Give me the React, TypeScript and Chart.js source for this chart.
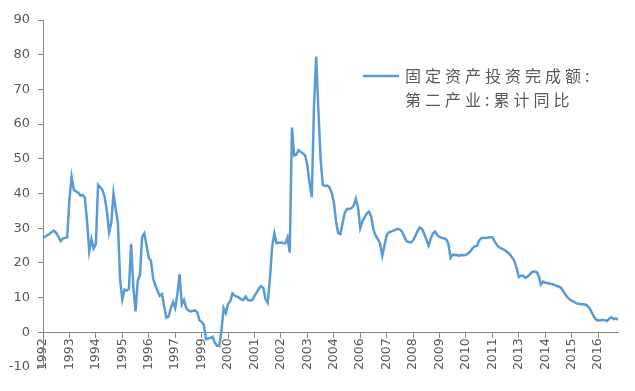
import React, { useEffect, useRef } from "react";
import { Chart, registerables } from "chart.js";

Chart.register(...registerables);

// Year labels shown on the category axis (one every POINTS_PER_LABEL points)
const tickYears = [
  "1992", "1993", "1994", "1995", "1996", "1997", "1999", "2000", "2001", "2002", "2003",
  "2004", "2006", "2007", "2008", "2009", "2010", "2011", "2013", "2014", "2015", "2016",
];
const POINTS_PER_LABEL = 12;

// Legend text (two lines)
const legendLines = ["固定资产投资完成额:", "第二产业:累计同比"];

// 固定资产投资完成额:第二产业:累计同比 (%), one row per label interval
const secondaryIndustryYoY = [
  27.2, 27.6, 28.0, 28.4, 28.9, 29.3, 28.6, 27.6, 26.3, 27.0, 27.2, 27.4,
  38.4, 44.8, 41.0, 40.6, 40.2, 39.4, 39.6, 38.8, 32.0, 23.3, 26.8, 24.2,
  25.5, 42.5, 41.8, 41.0, 39.0, 35.0, 28.8, 31.5, 40.0, 35.5, 31.5, 15.0,
  9.5, 12.3, 12.0, 12.5, 25.5, 13.0, 6.0, 14.8, 16.5, 27.5, 28.5, 25.0,
  21.5, 20.6, 15.5, 13.5, 12.0, 10.5, 11.0, 7.5, 4.2, 4.5, 7.0, 8.7,
  7.0, 11.0, 16.8, 8.0, 9.3, 7.0, 6.3, 6.0, 6.2, 6.3, 5.8, 3.5,
  3.0, 2.2, -2.0, -1.8, -1.6, -1.3, -3.0, -3.9, -4.0, 0.5, 7.0, 5.5,
  8.2, 9.0, 11.2, 10.6, 10.3, 10.0, 9.5, 9.3, 10.3, 9.3, 9.2, 9.3,
  10.5, 11.5, 12.6, 13.3, 12.8, 9.5, 8.5, 15.5, 24.5, 28.5, 25.7, 25.8,
  25.9, 25.7, 25.6, 27.3, 23.0, 59.0, 51.0, 51.2, 52.5, 52.0, 51.5, 51.0,
  48.0, 43.0, 39.0, 65.0, 79.5, 64.0, 50.0, 42.5, 42.2, 42.3, 41.8, 40.3,
  37.5, 32.0, 28.6, 28.3, 31.5, 34.5, 35.5, 35.5, 35.8, 36.5, 38.5, 36.0,
  30.0, 32.0, 33.2, 34.2, 34.8, 33.3, 29.6, 27.8, 26.9, 25.5, 22.0, 25.0,
  28.0, 28.8, 29.0, 29.3, 29.5, 29.8, 29.6, 29.0, 27.5, 26.3, 26.0, 25.9,
  26.5, 27.7, 29.2, 30.2, 29.8, 28.5, 26.8, 25.0, 27.0, 28.5, 29.0, 28.0,
  27.5, 27.2, 27.1, 26.8, 25.5, 21.5, 22.4, 22.2, 22.3, 22.0, 22.3, 22.2,
  22.3, 22.8, 23.3, 24.3, 24.8, 24.9, 26.5, 27.2, 27.2, 27.2, 27.3, 27.4,
  27.4, 26.2, 25.2, 24.5, 24.2, 23.9, 23.5, 23.0, 22.4, 21.5, 20.5, 18.5,
  15.9, 16.3, 16.3, 15.7, 16.1, 16.7, 17.4, 17.5, 17.4, 16.3, 13.8, 14.6,
  14.3, 14.2, 14.0, 13.9, 13.7, 13.4, 13.2, 12.9, 12.0, 11.0, 10.1, 9.5,
  9.1, 8.8, 8.4, 8.2, 8.1, 8.1, 8.0, 7.7, 7.0, 5.8, 4.6, 3.7,
  3.4, 3.4, 3.6, 3.5, 3.3, 3.9, 4.3, 3.8, 4.0, 3.6,
];

const LINE_COLOR = "#5B9BD5";
const AXIS_COLOR = "#868686";
const TEXT_COLOR = "#595959";

const categories = secondaryIndustryYoY.map((_, i) =>
  i % POINTS_PER_LABEL === 0 ? tickYears[i / POINTS_PER_LABEL] ?? "" : ""
);

const sideLegend = {
  id: "sideLegend",
  afterDraw(chart: any) {
    const ctx = chart.ctx as CanvasRenderingContext2D;
    const ds = chart.data.datasets[0];
    ctx.save();
    ctx.strokeStyle = ds.borderColor;
    ctx.lineWidth = 2.5;
    ctx.beginPath();
    ctx.moveTo(363, 76);
    ctx.lineTo(399, 76);
    ctx.stroke();
    ctx.fillStyle = TEXT_COLOR;
    ctx.font = '16px "Noto Sans CJK SC"';
    ctx.textBaseline = "middle";
    ctx.textAlign = "left";
    (ctx as any).letterSpacing = "4px";
    legendLines.forEach((t, i) => ctx.fillText(t, 405, 76 + i * 23.5));
    ctx.restore();
  },
};

export default function App() {
  const ref = useRef<HTMLCanvasElement | null>(null);

  useEffect(() => {
    if (!ref.current) return;
    const chart = new Chart(ref.current, {
      type: "line",
      data: {
        labels: categories,
        datasets: [
          {
            label: legendLines.join(""),
            data: secondaryIndustryYoY,
            borderColor: LINE_COLOR,
            backgroundColor: LINE_COLOR,
            borderWidth: 2.5,
            pointRadius: 0,
            tension: 0,
            fill: false,
          },
        ],
      },
      options: {
        responsive: false,
        animation: false,
        layout: { padding: { left: 0, right: 17, top: 20, bottom: 24 } },
        plugins: {
          legend: { display: false },
          tooltip: { enabled: false },
        },
        scales: {
          x: {
            type: "category",
            position: { y: 0 } as any,
            afterFit: (s: any) => {
              s.height = 0;
            },
            ticks: {
              autoSkip: false,
              maxRotation: 90,
              minRotation: 90,
              padding: 1,
              color: TEXT_COLOR,
              font: { family: "DejaVu Sans", size: 12.5 },
            },
            grid: {
              display: true,
              drawOnChartArea: false,
              drawTicks: true,
              tickLength: 5,
              color: (c: any) =>
                c.index % POINTS_PER_LABEL === 0 ? AXIS_COLOR : "rgba(0,0,0,0)",
            },
            border: { display: true, color: AXIS_COLOR, width: 1 },
          },
          y: {
            min: -10,
            max: 90,
            afterFit: (s: any) => {
              s.width = 43;
            },
            ticks: {
              stepSize: 10,
              padding: 8,
              color: TEXT_COLOR,
              font: { family: "DejaVu Sans", size: 13 },
            },
            grid: {
              display: true,
              drawOnChartArea: false,
              drawTicks: true,
              tickLength: 5,
              color: AXIS_COLOR,
            },
            border: { display: true, color: AXIS_COLOR, width: 1 },
          },
        },
      },
      plugins: [sideLegend],
    });
    return () => chart.destroy();
  }, []);

  return (
    <div style={{ position: "fixed", left: 0, top: 0, width: 635, height: 391, background: "#fff" }}>
      <canvas ref={ref} width={635} height={391} style={{ display: "block" }} />
    </div>
  );
}
